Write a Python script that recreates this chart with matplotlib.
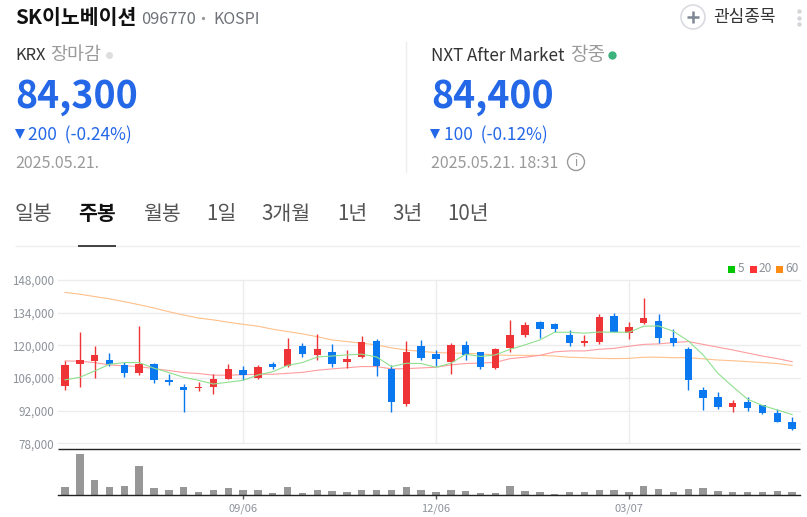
import matplotlib
matplotlib.use("Agg")
import matplotlib.pyplot as plt
from matplotlib.patches import Circle

plt.rcParams['font.family'] = ['Noto Sans CJK KR', 'DejaVu Sans']

W, H = 807, 517

# candle values: (body top, body bottom, high, low) kept in separate lists
body_top = [111400,113700,115700,113700,111400,112000,111900,105000,102200,102000,105400,109700,109300,110600,
            112200,118400,119900,118400,117200,114300,121400,121900,109900,117200,119700,116400,120100,120100,
            117200,118400,124400,128700,129900,129100,124400,121900,132100,132600,127700,131700,130400,123200,
            118400,100900,97900,95300,95600,94300,90900,87000]
body_bottom = [102700,112200,113300,111900,108000,108000,105000,104100,100900,101600,102300,105700,107200,105900,
               110700,111300,116300,115900,112200,112900,115200,111200,95900,95000,114400,114200,113000,116000,
               110900,110200,119000,124600,127100,127100,120900,120900,121400,125700,125400,129700,123300,120900,
               105300,97300,93700,93600,93300,90900,87300,84300]
highs = [113300,125700,119700,116600,112900,128300,112300,107700,103400,104300,107600,112000,111200,111400,
         112900,123200,120900,124900,120600,118000,124000,122700,111400,121900,122300,117900,120900,121900,
         117200,118900,130900,130000,130600,129600,126600,124300,133400,133900,130000,140100,133400,127000,
         119300,102200,100000,96400,97900,94300,92900,89300]
lows = [100900,102300,106200,111200,106600,107400,104000,102900,91600,100600,99300,105600,105200,105700,
        110000,110700,115000,113700,110700,110400,114700,106900,91600,94200,113900,111200,107900,113700,
        110000,110000,117300,123600,123200,125700,119900,119900,120700,125700,122700,129300,121000,119900,
        100700,92300,92900,91500,91900,90700,87000,83700]
# 1 = up (red), 0 = down (blue)
is_up = [1,1,1,0,0,1,0,0,0,1,1,1,0,1,0,1,0,1,0,1,1,0,0,1,0,0,1,0,0,1,1,1,0,0,0,1,1,0,1,1,0,0,0,0,0,1,0,0,0,0]

ma5 = [105200,106300,109000,111900,112600,112600,110200,108300,106300,105000,103400,104200,105000,107300,
       108700,111400,112600,115000,115400,115900,116200,115000,110900,112300,112200,110600,112300,116200,
       115200,115900,118300,120200,122300,125600,125600,125200,125700,125600,125600,128200,128300,126000,
       121900,115900,108000,102300,96900,94200,92300,90300]
ma20 = [113300,113200,112600,111600,111200,110900,110000,109200,108300,107900,107200,107200,107400,107600,
        107600,108000,108400,109300,109900,110400,110900,110900,109900,110000,110300,110600,111600,112200,
        112400,112700,114300,114900,115700,117200,117600,117600,118300,118700,119600,120400,120600,121200,
        121600,120400,119200,118000,116700,115400,114300,113000]
ma60 = [142700,141900,140900,139900,138700,137400,136000,134400,133000,131700,130900,129900,129000,128200,
        126900,125900,124900,123700,122300,121600,120900,120200,118900,118000,117400,116900,116700,116600,
        116300,115900,115700,115700,115700,115400,114900,114700,114400,114300,114400,114900,114900,114700,
        114700,114200,113700,113400,113000,112600,112200,111400]
volumes = [25,123,45,24,28,88,20,15,23,9,15,21,15,15,6,24,6,15,12,9,15,16,16,24,15,10,15,12,6,6,27,12,9,3,9,9,
           15,15,9,27,18,9,18,21,12,9,9,9,12,9]

price_ticks = [78000,92000,106000,120000,134000,148000]
date_idx = [12,25,38]
date_labels = ['09/06','12/06','03/07']
legend_names = ['5','20','60']
tabs = ['일봉','주봉','월봉','1일','3개월','1년','3년','10년']

RED = '#ef3438'
BLUE = '#0a78ee'
GRID = '#ececee'
GRAY = '#8d929a'

fig = plt.figure(figsize=(W/100, H/100), dpi=100, facecolor='white')

def axes_px(x0, y0, x1, y1, **kw):
    return fig.add_axes([x0/W, 1-y1/H, (x1-x0)/W, (y1-y0)/H], **kw)

xs = list(range(len(body_top)))
xlim = (-0.47, 49.53)
px = 742/ (xlim[1]-xlim[0])

# price panel
ax = axes_px(58, 280, 800, 443.3)
ax.set_xlim(*xlim)
ax.set_ylim(78000, 148000)
for s in ax.spines.values():
    s.set_visible(False)
ax.set_yticks(price_ticks)
ax.set_yticklabels([f'{v:,}' for v in price_ticks], fontsize=8.4, color=GRAY)
ax.tick_params(axis='y', length=0, pad=3)
ax.set_xticks(date_idx)
ax.tick_params(axis='x', length=0, labelbottom=False)
ax.grid(True, color=GRID, linewidth=1)
ax.set_axisbelow(True)
for tick in ax.get_ygridlines() + ax.get_xgridlines():
    tick.set_clip_on(False)

ax.plot(xs, ma60, color='#ffc08a', lw=0.8, zorder=2)
ax.plot(xs, ma20, color='#ff9c9e', lw=0.8, zorder=2)
for i in xs:
    c = RED if is_up[i] else BLUE
    ax.vlines(i, lows[i], highs[i], color=c, lw=1.0, zorder=3)
    ax.bar(i, body_top[i]-body_bottom[i], bottom=body_bottom[i], width=7.4/px*1.0,
           color=c, linewidth=0, zorder=3)
ax.plot(xs, ma5, color='#8fe08f', lw=0.8, zorder=4)

# volume panel
vx = axes_px(58, 454, 800, 495)
vx.set_xlim(*xlim)
vx.set_ylim(0, 123)
vx.patch.set_alpha(0)
for s in ['top', 'left', 'right']:
    vx.spines[s].set_visible(False)
vx.spines['bottom'].set_color('#222222')
vx.spines['bottom'].set_linewidth(1.0)
vx.bar(xs, volumes, width=7.4/px, color='#979797', linewidth=0)
vx.set_yticks([])
vx.set_xticks(date_idx)
vx.set_xticklabels(date_labels, fontsize=8, color=GRAY)
vx.tick_params(axis='x', length=3, width=1, color='#555555', pad=3)

# page furniture in pixel coordinates
ui = fig.add_axes([0, 0, 1, 1], zorder=10)
ui.set_xlim(0, W)
ui.set_ylim(H, 0)
ui.axis('off')

def t(x, y, s, size, color='#222222', weight='normal', ha='left'):
    ui.text(x, y, s, fontsize=size*0.72, color=color, fontweight=weight, ha=ha, va='center')

def hl(x0, x1, y, color, lw=1.0):
    ui.plot([x0, x1], [y, y], color=color, lw=lw, solid_capstyle='butt')

hl(58, 800, 448.5, '#222222', 1.0)

# legend
for lx, col, name, tx in [(728, '#00c800', legend_names[0], 738),
                          (750, '#ff3336', legend_names[1], 759),
                          (776, '#ff8c14', legend_names[2], 785)]:
    ui.add_patch(plt.Rectangle((lx, 266), 7, 7, color=col, lw=0))
    t(tx, 269, name, 12, GRAY)

# header
t(15, 18, 'SK이노베이션', 20.5, '#111111', 'bold')
t(141, 20, '096770', 16.5, '#6f7379')
ui.plot([203], [17.5], 'o', ms=2.4, color='#9a9a9a', mew=0)
t(213, 20, 'KOSPI', 16, '#6f7379')

ui.add_patch(Circle((693, 17), 12, fill=False, ec='#d9dbe0', lw=1.2))
ui.plot([693], [17], '+', ms=9, mew=1.8, color='#7f8794')
t(713, 17, '관심종목', 17, '#333333')
for yy in [11, 17.5, 24]:
    ui.plot([799], [yy], 'o', ms=3.2, color='#d3d5d9', mew=0)

# left quote
t(15, 56, 'KRX', 16.5, '#333333')
t(50, 55, '장마감', 18.5, '#9a9a9a')
ui.plot([109], [54.5], 'o', ms=5, color='#dddddd', mew=0)
t(15, 97, '84,300', 37.5, '#2468e8', 'bold')
ui.plot([19.5], [134], 'v', ms=6.5, color='#2468e8', mew=0)
t(28, 135, '200  (-0.24%)', 17.3, '#2468e8')
t(15, 163, '2025.05.21.', 16, '#9a9a9a')

ui.plot([406, 406], [42, 172], color='#eeeeee', lw=1)

# right quote
t(431, 56, 'NXT After Market', 17, '#333333')
t(570, 55, '장중', 19, '#9a9a9a')
ui.plot([612], [54.5], 'o', ms=6, color='#3cb27d', mew=0)
t(431, 97, '84,400', 37.5, '#2468e8', 'bold')
ui.plot([435], [134], 'v', ms=6.5, color='#2468e8', mew=0)
t(444, 135, '100  (-0.12%)', 17.3, '#2468e8')
t(431, 163, '2025.05.21. 18:31', 16, '#9a9a9a')
ui.add_patch(Circle((576, 162), 8.5, fill=False, ec='#9a9a9a', lw=1))
t(576, 162, 'i', 12, '#9a9a9a', ha='center')

# tabs
for x, s in zip([15, 78, 143, 206, 261, 337, 392, 447], tabs):
    t(x, 214, s, 20.5, '#111111' if s == '주봉' else '#555555', 'bold' if s == '주봉' else 'normal')
hl(15, 800, 245.5, '#eeeeee', 1)
hl(78, 116, 245.5, '#222222', 1.2)

fig.savefig('out.png', dpi=100, facecolor='white')
